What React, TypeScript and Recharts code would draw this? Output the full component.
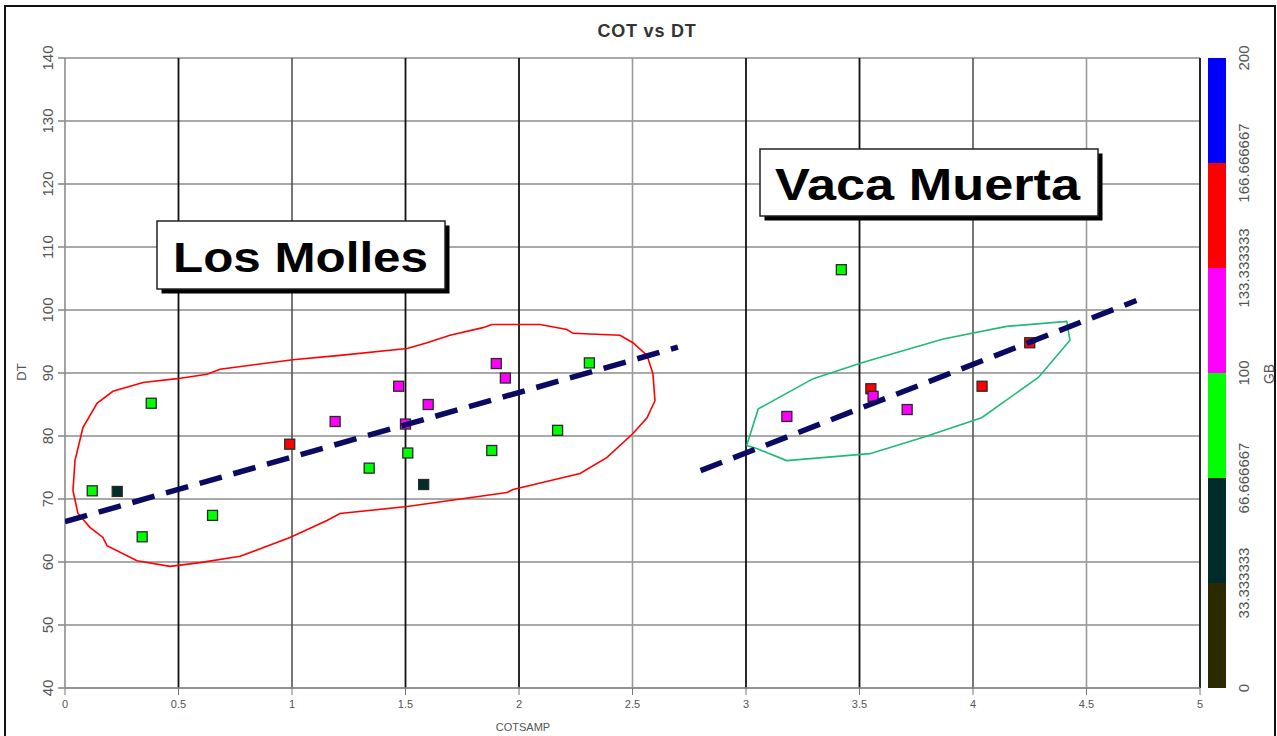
import { ScatterChart, Scatter, XAxis, YAxis, CartesianGrid } from "recharts";

// samples: COT (wt%), sonic DT, gamma ray (GB)
const COT = [0.12, 0.23, 0.38, 0.34, 0.65, 0.99, 1.19, 1.34, 1.47, 1.6, 1.5, 1.51, 1.58, 1.9, 1.94, 1.88, 2.17, 2.31, 3.42, 3.18, 3.55, 3.56, 3.71, 4.04, 4.25];
const DT = [71.3, 71.2, 85.2, 64.0, 67.4, 78.7, 82.3, 74.9, 87.9, 85.0, 81.9, 77.3, 72.3, 91.5, 89.2, 77.7, 80.9, 91.6, 106.4, 83.1, 87.5, 86.3, 84.2, 87.9, 94.8];
const GB = [85, 55, 80, 80, 80, 150, 115, 85, 120, 115, 110, 80, 50, 120, 115, 80, 80, 85, 80, 115, 150, 115, 120, 150, 150];

// hand-drawn outline around the Los Molles samples
const LM_OUTLINE_X = [0.035, 0.044, 0.079, 0.141, 0.211, 0.344, 0.493, 0.626, 0.683, 1.004, 1.211, 1.507, 1.595, 1.696, 1.841, 1.881, 2.093, 2.211, 2.238, 2.445, 2.502, 2.564, 2.59, 2.599, 2.564, 2.502, 2.388, 2.269, 2.181, 1.974, 1.947, 1.507, 1.211, 1.154, 0.991, 0.771, 0.595, 0.463, 0.317, 0.185, 0.167, 0.11, 0.057, 0.035];
const LM_OUTLINE_Y = [71.35, 76.1, 81.35, 85.2, 87.1, 88.5, 89.1, 89.8, 90.6, 92.1, 92.8, 93.9, 94.8, 96.0, 97.2, 97.7, 97.7, 96.9, 96.3, 96.0, 94.8, 92.8, 89.9, 85.6, 82.9, 80.4, 76.6, 74.05, 73.3, 71.5, 71.03, 68.8, 67.7, 66.6, 63.9, 60.9, 59.9, 59.3, 60.2, 62.6, 63.9, 65.5, 67.7, 71.35];

// outline around the Vaca Muerta samples
const VM_OUTLINE_X = [3.003, 3.054, 3.296, 3.517, 3.869, 4.148, 4.413, 4.427, 4.288, 4.038, 3.781, 3.546, 3.179, 3.047, 3.003];
const VM_OUTLINE_Y = [78.5, 84.3, 89.1, 91.7, 95.4, 97.4, 98.2, 95.2, 89.3, 82.9, 79.8, 77.2, 76.1, 78.0, 78.5];

// trend lines (end points)
const LM_TREND_X = [0, 2.7];
const LM_TREND_Y = [66.4, 94.1];
const VM_TREND_X = [2.8, 4.72];
const VM_TREND_Y = [74.5, 101.5];

const X_TICKS = [0, 0.5, 1, 1.5, 2, 2.5, 3, 3.5, 4, 4.5, 5];
const Y_TICKS = [40, 50, 60, 70, 80, 90, 100, 110, 120, 130, 140];
const V_DARK = [0.5, 1.5, 2, 3, 3.5, 5];
const V_MID = [1, 4];
const V_LIGHT = [2.5, 4.5];

const GB_BREAKS = [0, 33.333333, 66.666667, 100, 133.333333, 166.666667, 200];
const GB_LABELS = ["0", "33.333333", "66.666667", "100", "133.333333", "166.666667", "200"];
const GB_COLORS = ["#2a2900", "#002b2b", "#00ff00", "#ff00ff", "#ff0000", "#0000ff"];

const FONT = '"Liberation Sans", Arial, sans-serif';
const W = 1277;
const H = 736;
const PLOT_TOP = 58;
const PLOT_BOTTOM = 688;

const toXY = (xs: number[], ys: number[]) => xs.map((x, i) => ({ x, y: ys[i] }));

const gbColor = (gb: number) => {
  for (let i = GB_BREAKS.length - 2; i >= 0; i--) {
    if (gb >= GB_BREAKS[i]) return GB_COLORS[i];
  }
  return GB_COLORS[0];
};

const samples = COT.map((x, i) => ({ x, y: DT[i], gb: GB[i] }));

const NoMark = () => <g />;

const SquareMark = (props: any) => {
  const { cx, cy, payload } = props;
  if (cx == null || cy == null) return <g />;
  return (
    <rect
      x={cx - 5}
      y={cy - 5}
      width={10}
      height={10}
      fill={gbColor(payload.gb)}
      stroke="#2a2a2a"
      strokeWidth={1.3}
    />
  );
};

const YTick = (props: any) => {
  const { x, y, payload } = props;
  return (
    <text
      transform={`translate(${x - 9},${y}) rotate(-90)`}
      textAnchor="middle"
      dominantBaseline="central"
      fontSize={15}
      fontFamily={FONT}
      fill="#555"
    >
      {payload.value}
    </text>
  );
};

const XTick = (props: any) => {
  const { x, payload } = props;
  return (
    <text x={x} y={704} textAnchor="middle" dominantBaseline="central" fontSize={11} fontFamily={FONT} fill="#555">
      {payload.value}
    </text>
  );
};

const LabelBox = ({ x, y, w, h, text, textLeft, textLen, baseline, size }: any) => (
  <g>
    <rect x={x + 4.5} y={y + 4.5} width={w} height={h} fill="#000" />
    <rect x={x} y={y} width={w} height={h} fill="#fff" stroke="#222" strokeWidth={1.5} />
    <text
      x={textLeft}
      y={baseline}
      textLength={textLen}
      lengthAdjust="spacingAndGlyphs"
      fontSize={size}
      fontWeight="bold"
      fontFamily={FONT}
      fill="#000"
    >
      {text}
    </text>
  </g>
);

const gbToY = (gb: number) => PLOT_BOTTOM - (gb / 200) * (PLOT_BOTTOM - PLOT_TOP);

export default function App() {
  const trendLine = { stroke: "#0a0a62", strokeWidth: 5.5, strokeDasharray: "23 12" };

  return (
    <div style={{ position: "relative", width: W, height: H, overflow: "hidden", background: "#fff" }}>
      <style>{"body{margin:0;}"}</style>
      <div
        style={{
          position: "absolute",
          left: 4,
          top: 5,
          width: 1268,
          height: 760,
          border: "2px solid #111",
        }}
      />
      <ScatterChart width={W} height={H} margin={{ top: PLOT_TOP, right: 77, bottom: 18, left: 15 }}>
        <CartesianGrid vertical={false} stroke="#8c8c8c" strokeWidth={1.6} />
        <CartesianGrid horizontal={false} verticalValues={V_LIGHT} stroke="#9a9a9a" strokeWidth={1.6} />
        <CartesianGrid horizontal={false} verticalValues={V_MID} stroke="#555" strokeWidth={1.6} />
        <CartesianGrid horizontal={false} verticalValues={V_DARK} stroke="#111" strokeWidth={1.8} />
        <XAxis
          type="number"
          dataKey="x"
          domain={[0, 5]}
          ticks={X_TICKS}
          allowDataOverflow
          height={30}
          tickSize={7}
          axisLine={{ stroke: "#8c8c8c", strokeWidth: 1.6 }}
          tickLine={{ stroke: "#777" }}
          tick={<XTick />}
        />
        <YAxis
          type="number"
          dataKey="y"
          domain={[40, 140]}
          ticks={Y_TICKS}
          allowDataOverflow
          width={50}
          tickSize={7}
          axisLine={{ stroke: "#8c8c8c", strokeWidth: 1.6 }}
          tickLine={{ stroke: "#8c8c8c", strokeWidth: 1.6 }}
          tick={<YTick />}
        />
        <Scatter
          data={toXY(LM_OUTLINE_X, LM_OUTLINE_Y)}
          line={{ stroke: "#ff0000", strokeWidth: 1.6, fill: "none" }}
          shape={NoMark}
          isAnimationActive={false}
        />
        <Scatter
          data={toXY(VM_OUTLINE_X, VM_OUTLINE_Y)}
          line={{ stroke: "#1fba78", strokeWidth: 1.6, fill: "none" }}
          shape={NoMark}
          isAnimationActive={false}
        />
        <Scatter data={samples} shape={SquareMark} isAnimationActive={false} />
        <Scatter data={toXY(LM_TREND_X, LM_TREND_Y)} line={trendLine} shape={NoMark} isAnimationActive={false} />
        <Scatter data={toXY(VM_TREND_X, VM_TREND_Y)} line={trendLine} shape={NoMark} isAnimationActive={false} />
      </ScatterChart>

      <svg width={W} height={H} style={{ position: "absolute", left: 0, top: 0, pointerEvents: "none" }}>
        <text x={647} y={31} textAnchor="middle" dominantBaseline="central" fontSize={18} fontWeight="bold" fontFamily={FONT} fill="#333" letterSpacing={0.8}>
          COT vs DT
        </text>
        <text transform="translate(21,372) rotate(-90)" textAnchor="middle" dominantBaseline="central" fontSize={13} fontFamily={FONT} fill="#555">
          DT
        </text>
        <text x={523} y={727} textAnchor="middle" dominantBaseline="central" fontSize={11} fontFamily={FONT} fill="#555">
          COTSAMP
        </text>

        {GB_COLORS.map((c, i) => (
          <rect
            key={c}
            x={1208}
            y={gbToY(GB_BREAKS[i + 1])}
            width={18}
            height={gbToY(GB_BREAKS[i]) - gbToY(GB_BREAKS[i + 1])}
            fill={c}
          />
        ))}
        {GB_LABELS.map((t, i) => (
          <text
            key={t}
            transform={`translate(1243,${gbToY(GB_BREAKS[i])}) rotate(-90)`}
            textAnchor="middle"
            dominantBaseline="central"
            fontSize={15}
            fontFamily={FONT}
            fill="#555"
          >
            {t}
          </text>
        ))}
        <text transform="translate(1269,374) rotate(-90)" textAnchor="middle" dominantBaseline="central" fontSize={14} fontFamily={FONT} fill="#555">
          GB
        </text>

        <LabelBox x={157} y={221} w={288} h={68} text="Los Molles" textLeft={173} textLen={255} baseline={272} size={43} />
        <LabelBox x={760} y={149} w={338} h={67} text="Vaca Muerta" textLeft={775} textLen={305} baseline={200} size={44} />
      </svg>
    </div>
  );
}
